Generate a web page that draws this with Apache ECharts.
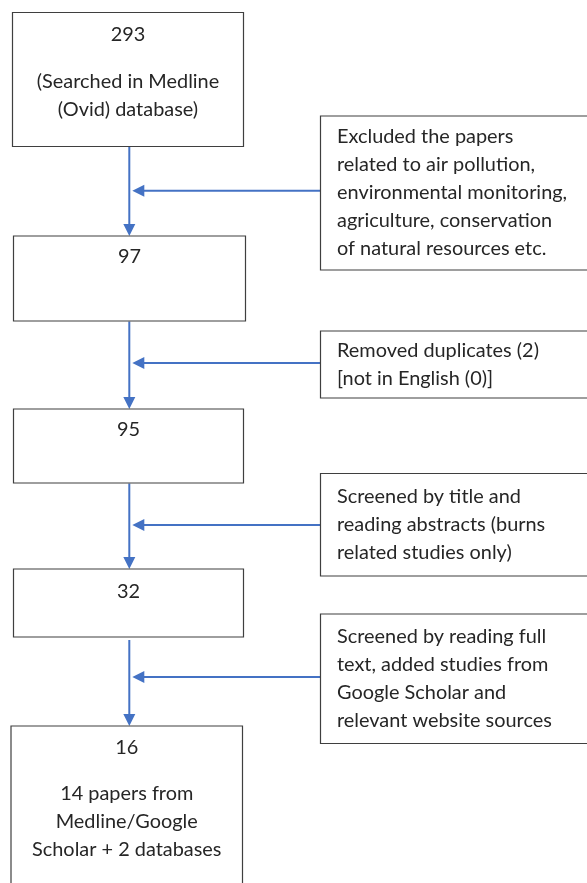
<!DOCTYPE html>
<html>
<head>
<meta charset="utf-8">
<script src="https://cdn.jsdelivr.net/npm/echarts@6.0.0/dist/echarts.min.js"></script>
<style>
  html, body { margin: 0; padding: 0; background: #ffffff; }
  #chart { width: 587px; height: 883px; }
</style>
</head>
<body>
<div id="chart"></div>
<script>
// ---------------- data ----------------
const stageCounts = [293, 97, 95, 32, 16];
const stageNotes = [
  '(Searched in Medline\n(Ovid) database)',
  '',
  '',
  '',
  '14 papers from\nMedline/Google\nScholar + 2 databases'
];
const exclusionNotes = [
  'Excluded the papers\nrelated to air pollution,\nenvironmental monitoring,\nagriculture, conservation\nof natural resources etc.',
  'Removed duplicates (2)\n[not in English (0)]',
  'Screened by title and\nreading abstracts (burns\nrelated studies only)',
  'Screened by reading full\ntext, added studies from\nGoogle Scholar and\nrelevant website sources'
];

// ---------------- layout (diagram units on hidden axes) ----------------
const stageLeft   = [12.5, 13.5, 13.5, 13.5, 11];
const stageRight  = [243.5, 245.5, 243.5, 243.5, 242.5];
const stageTop    = [12.5, 236, 409, 569, 726];
const stageBottom = [146.5, 321, 483, 637, 895];
const stemStart   = [147, 321.5, 483.5, 640];
const countY      = [35, 257, 430, 592, 748];
const noteY       = [82, 0, 0, 0, 793.5];
const exLeft = 320.5, exRight = 600, exTextX = 337;
const exTop    = [116, 331, 473.5, 614];
const exBottom = [270, 398, 576, 743.5];
const arrowY   = [190.7, 363, 525, 677];
const stemX = 129.3;
const LH = 28;

const FONT_FAMILY = 'Lato, "Open Sans", sans-serif';
function fitFontSize() {
  const ctx = document.createElement('canvas').getContext('2d');
  ctx.font = '100px Lato';
  const samples = [
    ['relevant website sources', 215.7],
    ['Removed duplicates (2)', 202],
    ['environmental monitoring,', 232.7],
    ['Scholar + 2 databases', 187.7],
    ['(Searched in Medline', 184],
    ['Screened by reading full', 208]
  ];
  let r = 0;
  samples.forEach(([s, w]) => { r += w / ctx.measureText(s).width; });
  return Math.round(100 * r / samples.length * 10) / 10;
}
const FS = fitFontSize();
const TEXT_COLOR = '#262626';
const BORDER = '#3f3f3f';
const BLUE = '#4472C4';

function font() { return FS + 'px ' + FONT_FAMILY; }

const chart = echarts.init(document.getElementById('chart'), null, { renderer: 'canvas' });

function stageRender(params, api) {
  const i = api.value(0);
  const p0 = api.coord([stageLeft[i], stageTop[i]]);
  const p1 = api.coord([stageRight[i], stageBottom[i]]);
  const cx = api.coord([(stageLeft[i] + stageRight[i]) / 2, 0])[0];
  const children = [{
    type: 'rect',
    shape: { x: p0[0], y: p0[1], width: p1[0] - p0[0], height: p1[1] - p0[1] },
    style: { fill: '#ffffff', stroke: BORDER, lineWidth: 1.2 }
  }, {
    type: 'text',
    style: {
      text: String(stageCounts[i]), x: cx, y: api.coord([0, countY[i]])[1],
      align: 'center', verticalAlign: 'middle', font: font(), fill: TEXT_COLOR
    }
  }];
  const note = stageNotes[i];
  if (note) {
    const n = note.split('\n').length;
    children.push({
      type: 'text',
      style: {
        text: note, x: cx, y: api.coord([0, noteY[i] + (n - 1) * LH / 2])[1],
        align: 'center', verticalAlign: 'middle', font: font(), fill: TEXT_COLOR,
        lineHeight: LH
      }
    });
  }
  return { type: 'group', children };
}

function exclusionRender(params, api) {
  const i = api.value(0);
  const p0 = api.coord([exLeft, exTop[i]]);
  const p1 = api.coord([exRight, exBottom[i]]);
  const tx = api.coord([exTextX, (exTop[i] + exBottom[i]) / 2]);
  return {
    type: 'group',
    children: [{
      type: 'rect',
      shape: { x: p0[0], y: p0[1], width: p1[0] - p0[0], height: p1[1] - p0[1] },
      style: { fill: '#ffffff', stroke: BORDER, lineWidth: 1.2 }
    }, {
      type: 'text',
      style: {
        text: exclusionNotes[i], x: tx[0], y: tx[1],
        align: 'left', verticalAlign: 'middle', font: font(), fill: TEXT_COLOR,
        lineHeight: LH
      }
    }]
  };
}

function arrowRender(params, api) {
  const i = api.value(0);
  // vertical stem with arrowhead pointing down to next stage box
  const s0 = api.coord([stemX, stemStart[i]]);
  const tip = api.coord([stemX, stageTop[i + 1]]);
  // horizontal arrow from exclusion box to the stem
  const h0 = api.coord([exLeft, arrowY[i]]);
  const htip = api.coord([stemX + 3, arrowY[i]]);
  const AL = 12, AW = 6;
  return {
    type: 'group',
    children: [{
      type: 'line',
      shape: { x1: s0[0], y1: s0[1], x2: tip[0], y2: tip[1] - AL + 1 },
      style: { stroke: BLUE, lineWidth: 2 }
    }, {
      type: 'polygon',
      shape: { points: [[tip[0], tip[1]], [tip[0] - AW, tip[1] - AL], [tip[0] + AW, tip[1] - AL]] },
      style: { fill: BLUE }
    }, {
      type: 'line',
      shape: { x1: h0[0], y1: h0[1], x2: htip[0] + AL - 1, y2: htip[1] },
      style: { stroke: BLUE, lineWidth: 2 }
    }, {
      type: 'polygon',
      shape: { points: [[htip[0], htip[1]], [htip[0] + AL, htip[1] - AW], [htip[0] + AL, htip[1] + AW]] },
      style: { fill: BLUE }
    }]
  };
}

chart.setOption({
  animation: false,
  backgroundColor: '#ffffff',
  grid: { left: 0, right: 0, top: 0, bottom: 0 },
  xAxis: { type: 'value', min: 0, max: 587, show: false },
  yAxis: { type: 'value', min: 0, max: 883, inverse: true, show: false },
  series: [{
    type: 'custom', name: 'arrows', renderItem: arrowRender,
    data: exclusionNotes.map((_, i) => [i]), z: 1
  }, {
    type: 'custom', name: 'stages', renderItem: stageRender,
    data: stageCounts.map((_, i) => [i]), z: 2
  }, {
    type: 'custom', name: 'exclusions', renderItem: exclusionRender,
    data: exclusionNotes.map((_, i) => [i]), z: 2
  }]
});
</script>
</body>
</html>
